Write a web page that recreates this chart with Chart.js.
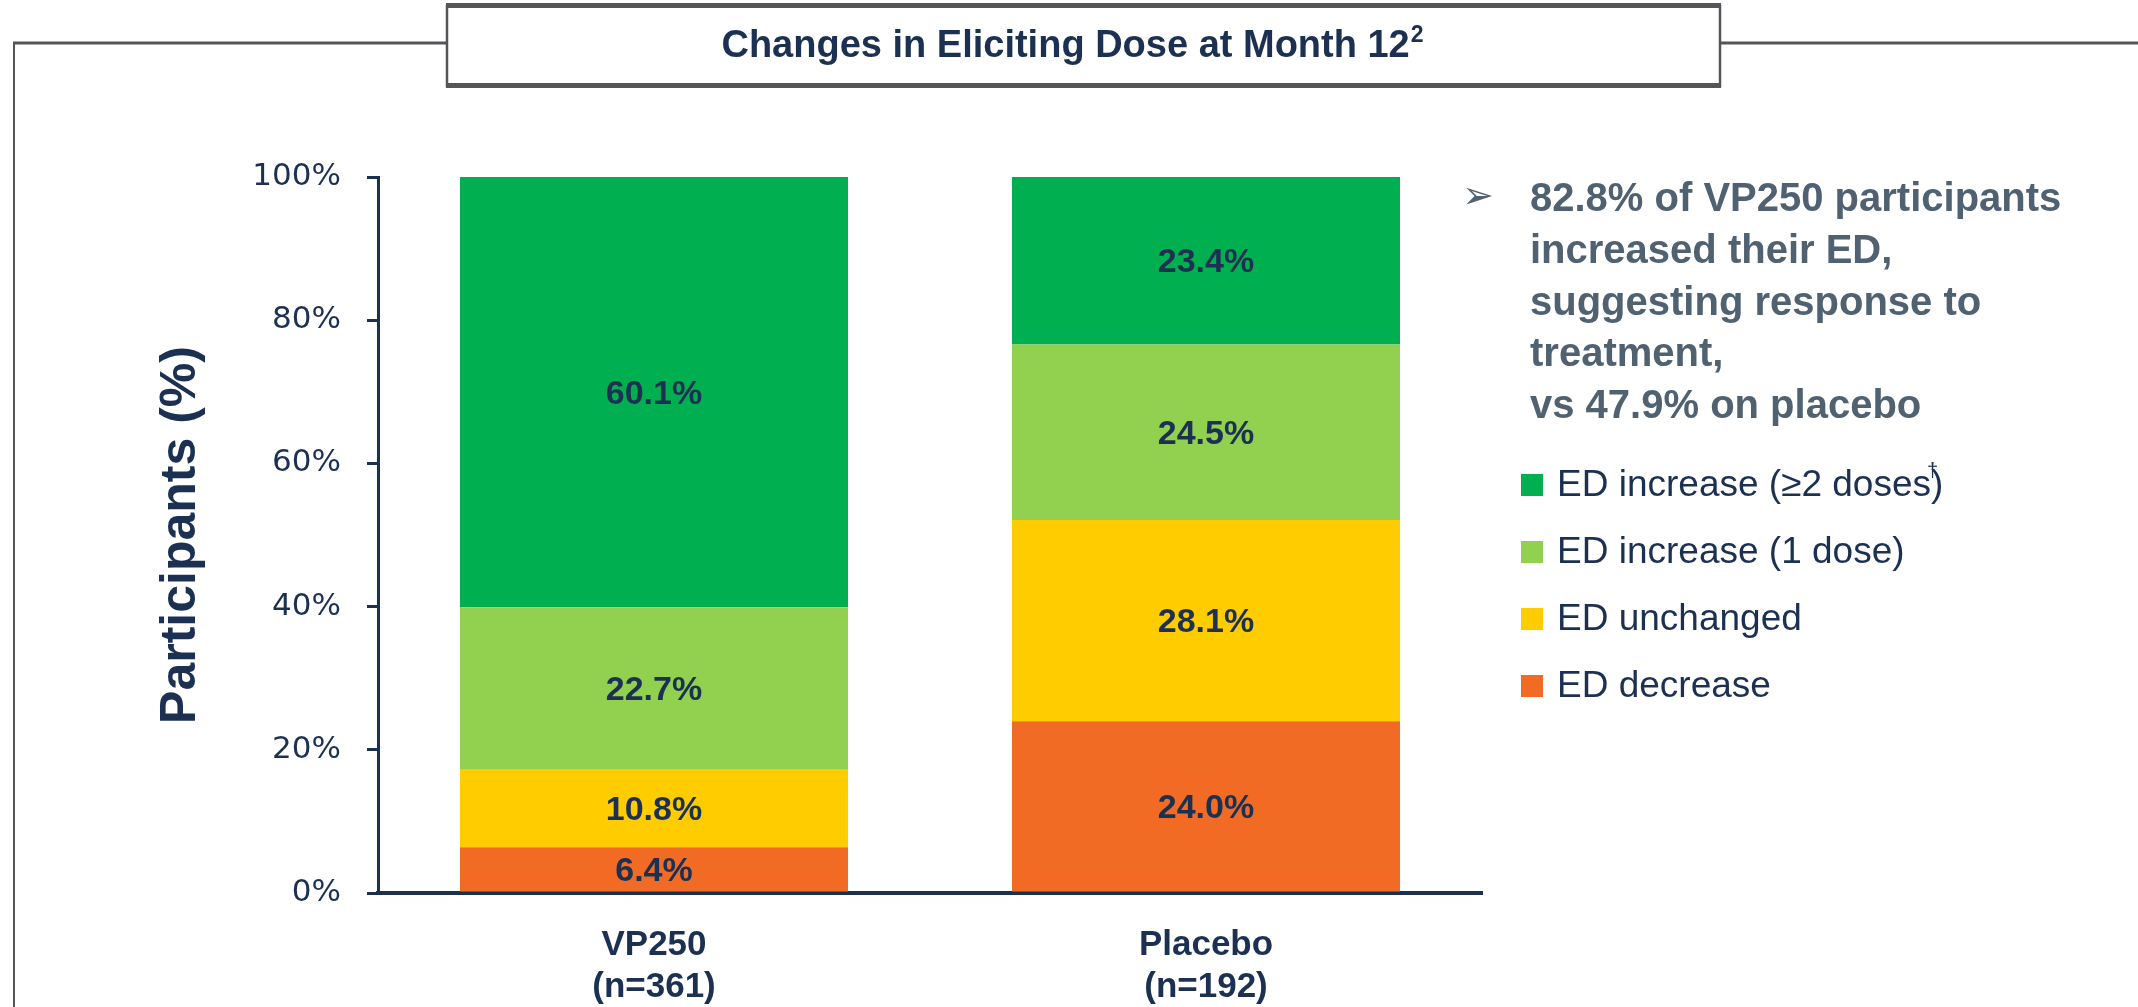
<!DOCTYPE html>
<html>
<head>
<meta charset="utf-8">
<script src="https://cdn.jsdelivr.net/npm/chart.js@4.4.0/dist/chart.umd.min.js"></script>
<style>
html,body{margin:0;padding:0;background:#fff;}
canvas{display:block;}
</style>
</head>
<body>
<canvas id="grafico" width="2138" height="1007"></canvas>
<script>
// Datos
const grupos = [['VP250', '(n=361)'], ['Placebo', '(n=192)']];
const series = ['ED decrease', 'ED unchanged', 'ED increase (1 dose)', 'ED increase (≥2 doses)'];
const decrease  = [6.4, 24.0];
const unchanged = [10.8, 28.1];
const inc1      = [22.7, 24.5];
const inc2      = [60.1, 23.4];
const colores = ['#F26B24', '#FFCC00', '#92D050', '#00B050'];
const yTicks = [0, 20, 40, 60, 80, 100];
const notas = ['82.8% of VP250 participants', 'increased their ED,', 'suggesting response to', 'treatment,', 'vs 47.9% on placebo'];
const notasLeyenda = ['', '', '', '†'];
const titulo = 'Changes in Eliciting Dose at Month 12';
const tituloSup = '2';

const navy = '#1C3152';
const gris = '#555559';
const valores = [decrease, unchanged, inc1, inc2];

// marco, caja del título, etiquetas, notas y leyenda
const decoracion = {
  id: 'decoracion',
  beforeDraw(chart) {
    const ctx = chart.ctx;
    ctx.save();
    ctx.fillStyle = '#fff';
    ctx.fillRect(0, 0, chart.width, chart.height);
    // líneas del marco
    ctx.strokeStyle = gris;
    ctx.lineWidth = 2;
    ctx.beginPath();
    ctx.moveTo(14, 1007); ctx.lineTo(14, 43);
    ctx.stroke();
    ctx.lineWidth = 3;
    ctx.beginPath();
    ctx.moveTo(13, 43); ctx.lineTo(446, 43);
    ctx.moveTo(1721, 43); ctx.lineTo(2138, 43);
    ctx.stroke();
    // caja del título
    ctx.lineWidth = 2.5;
    ctx.strokeRect(447, 6, 1273, 80);
    ctx.fillStyle = gris;
    ctx.fillRect(446, 3, 1275, 5);
    ctx.fillRect(446, 83, 1275, 5);
    // título con superíndice
    ctx.fillStyle = navy;
    ctx.font = 'bold 38px "Liberation Sans", Arial, sans-serif';
    ctx.textBaseline = 'middle';
    const w = ctx.measureText(titulo).width;
    ctx.font = 'bold 23px "Liberation Sans", Arial, sans-serif';
    const ws = ctx.measureText(tituloSup).width;
    const x0 = 1072 - (w + ws) / 2;
    ctx.font = 'bold 38px "Liberation Sans", Arial, sans-serif';
    ctx.textAlign = 'left';
    ctx.fillText(titulo, x0, 47);
    ctx.font = 'bold 23px "Liberation Sans", Arial, sans-serif';
    ctx.fillText(tituloSup, x0 + w + 1, 36);
    ctx.restore();
  },
  afterDatasetsDraw(chart) {
    const ctx = chart.ctx;
    ctx.save();
    ctx.fillStyle = navy;
    ctx.font = 'bold 34px "Liberation Sans", Arial, sans-serif';
    ctx.textAlign = 'center';
    ctx.textBaseline = 'middle';
    chart.data.datasets.forEach((ds, i) => {
      chart.getDatasetMeta(i).data.forEach((bar, j) => {
        const p = bar.getProps(['x', 'y', 'base'], true);
        ctx.fillText(ds.data[j].toFixed(1) + '%', p.x, (p.y + p.base) / 2 + 2);
      });
    });
    ctx.restore();
  },
  afterDraw(chart) {
    const ctx = chart.ctx;
    ctx.save();
    // nota con flecha
    ctx.fillStyle = '#506272';
    ctx.textBaseline = 'middle';
    ctx.textAlign = 'left';
    ctx.font = '38px "DejaVu Sans", sans-serif';
    ctx.fillText('➢', 1462, 198);
    ctx.font = 'bold 40px "Liberation Sans", Arial, sans-serif';
    notas.forEach((t, i) => ctx.fillText(t, 1530, 200 + i * 51.8));
    // leyenda (orden inverso)
    const ds = chart.data.datasets;
    for (let k = 0; k < ds.length; k++) {
      const i = ds.length - 1 - k;
      const y = 485 + k * 67;
      ctx.fillStyle = ds[i].backgroundColor;
      ctx.fillRect(1521, y - 11, 22, 22);
      ctx.fillStyle = navy;
      ctx.font = '37px "Liberation Sans", Arial, sans-serif';
      ctx.fillText(ds[i].label, 1557, y + 1);
      if (notasLeyenda[i]) {
        const wl = ctx.measureText(ds[i].label).width;
        const wp = ctx.measureText(')').width;
        ctx.font = '20px "Liberation Sans", Arial, sans-serif';
        ctx.fillText(notasLeyenda[i], 1557 + wl - wp - 4, y - 14);
      }
    }
    ctx.restore();
  }
};

new Chart(document.getElementById('grafico').getContext('2d'), {
  type: 'bar',
  data: {
    labels: grupos,
    datasets: series.map((s, i) => ({
      label: s,
      data: valores[i],
      backgroundColor: colores[i],
      borderWidth: 0,
      categoryPercentage: 1,
      barPercentage: 0.703
    }))
  },
  options: {
    responsive: false,
    devicePixelRatio: 1,
    animation: false,
    layout: { padding: { left: 0, top: 177, right: 656, bottom: 0 } },
    plugins: { legend: { display: false }, tooltip: { enabled: false } },
    scales: {
      x: {
        stacked: true,
        afterFit(scale) { scale.height = 114; },
        grid: { display: false, drawTicks: false },
        border: { display: true, color: navy, width: 4 },
        ticks: {
          padding: 31,
          color: navy,
          font: { family: '"Liberation Sans", Arial, sans-serif', size: 35, weight: 'bold', lineHeight: 1.2 }
        }
      },
      y: {
        stacked: true,
        min: 0,
        max: 100,
        afterFit(scale) { scale.width = 378; },
        afterBuildTicks(scale) { scale.ticks = yTicks.map(v => ({ value: v })); },
        grid: { drawOnChartArea: false, drawTicks: true, tickLength: 11, color: navy, lineWidth: 3 },
        border: { display: true, color: navy, width: 3 },
        ticks: {
          padding: 26,
          color: navy,
          font: { family: '"DejaVu Sans", sans-serif', size: 31 },
          callback: v => v + '%'
        },
        title: {
          display: true,
          text: 'Participants (%)',
          color: navy,
          padding: { top: 151, bottom: 0 },
          font: { family: '"Liberation Sans", Arial, sans-serif', size: 50, weight: 'bold' }
        }
      }
    }
  },
  plugins: [decoracion]
});
</script>
</body>
</html>
